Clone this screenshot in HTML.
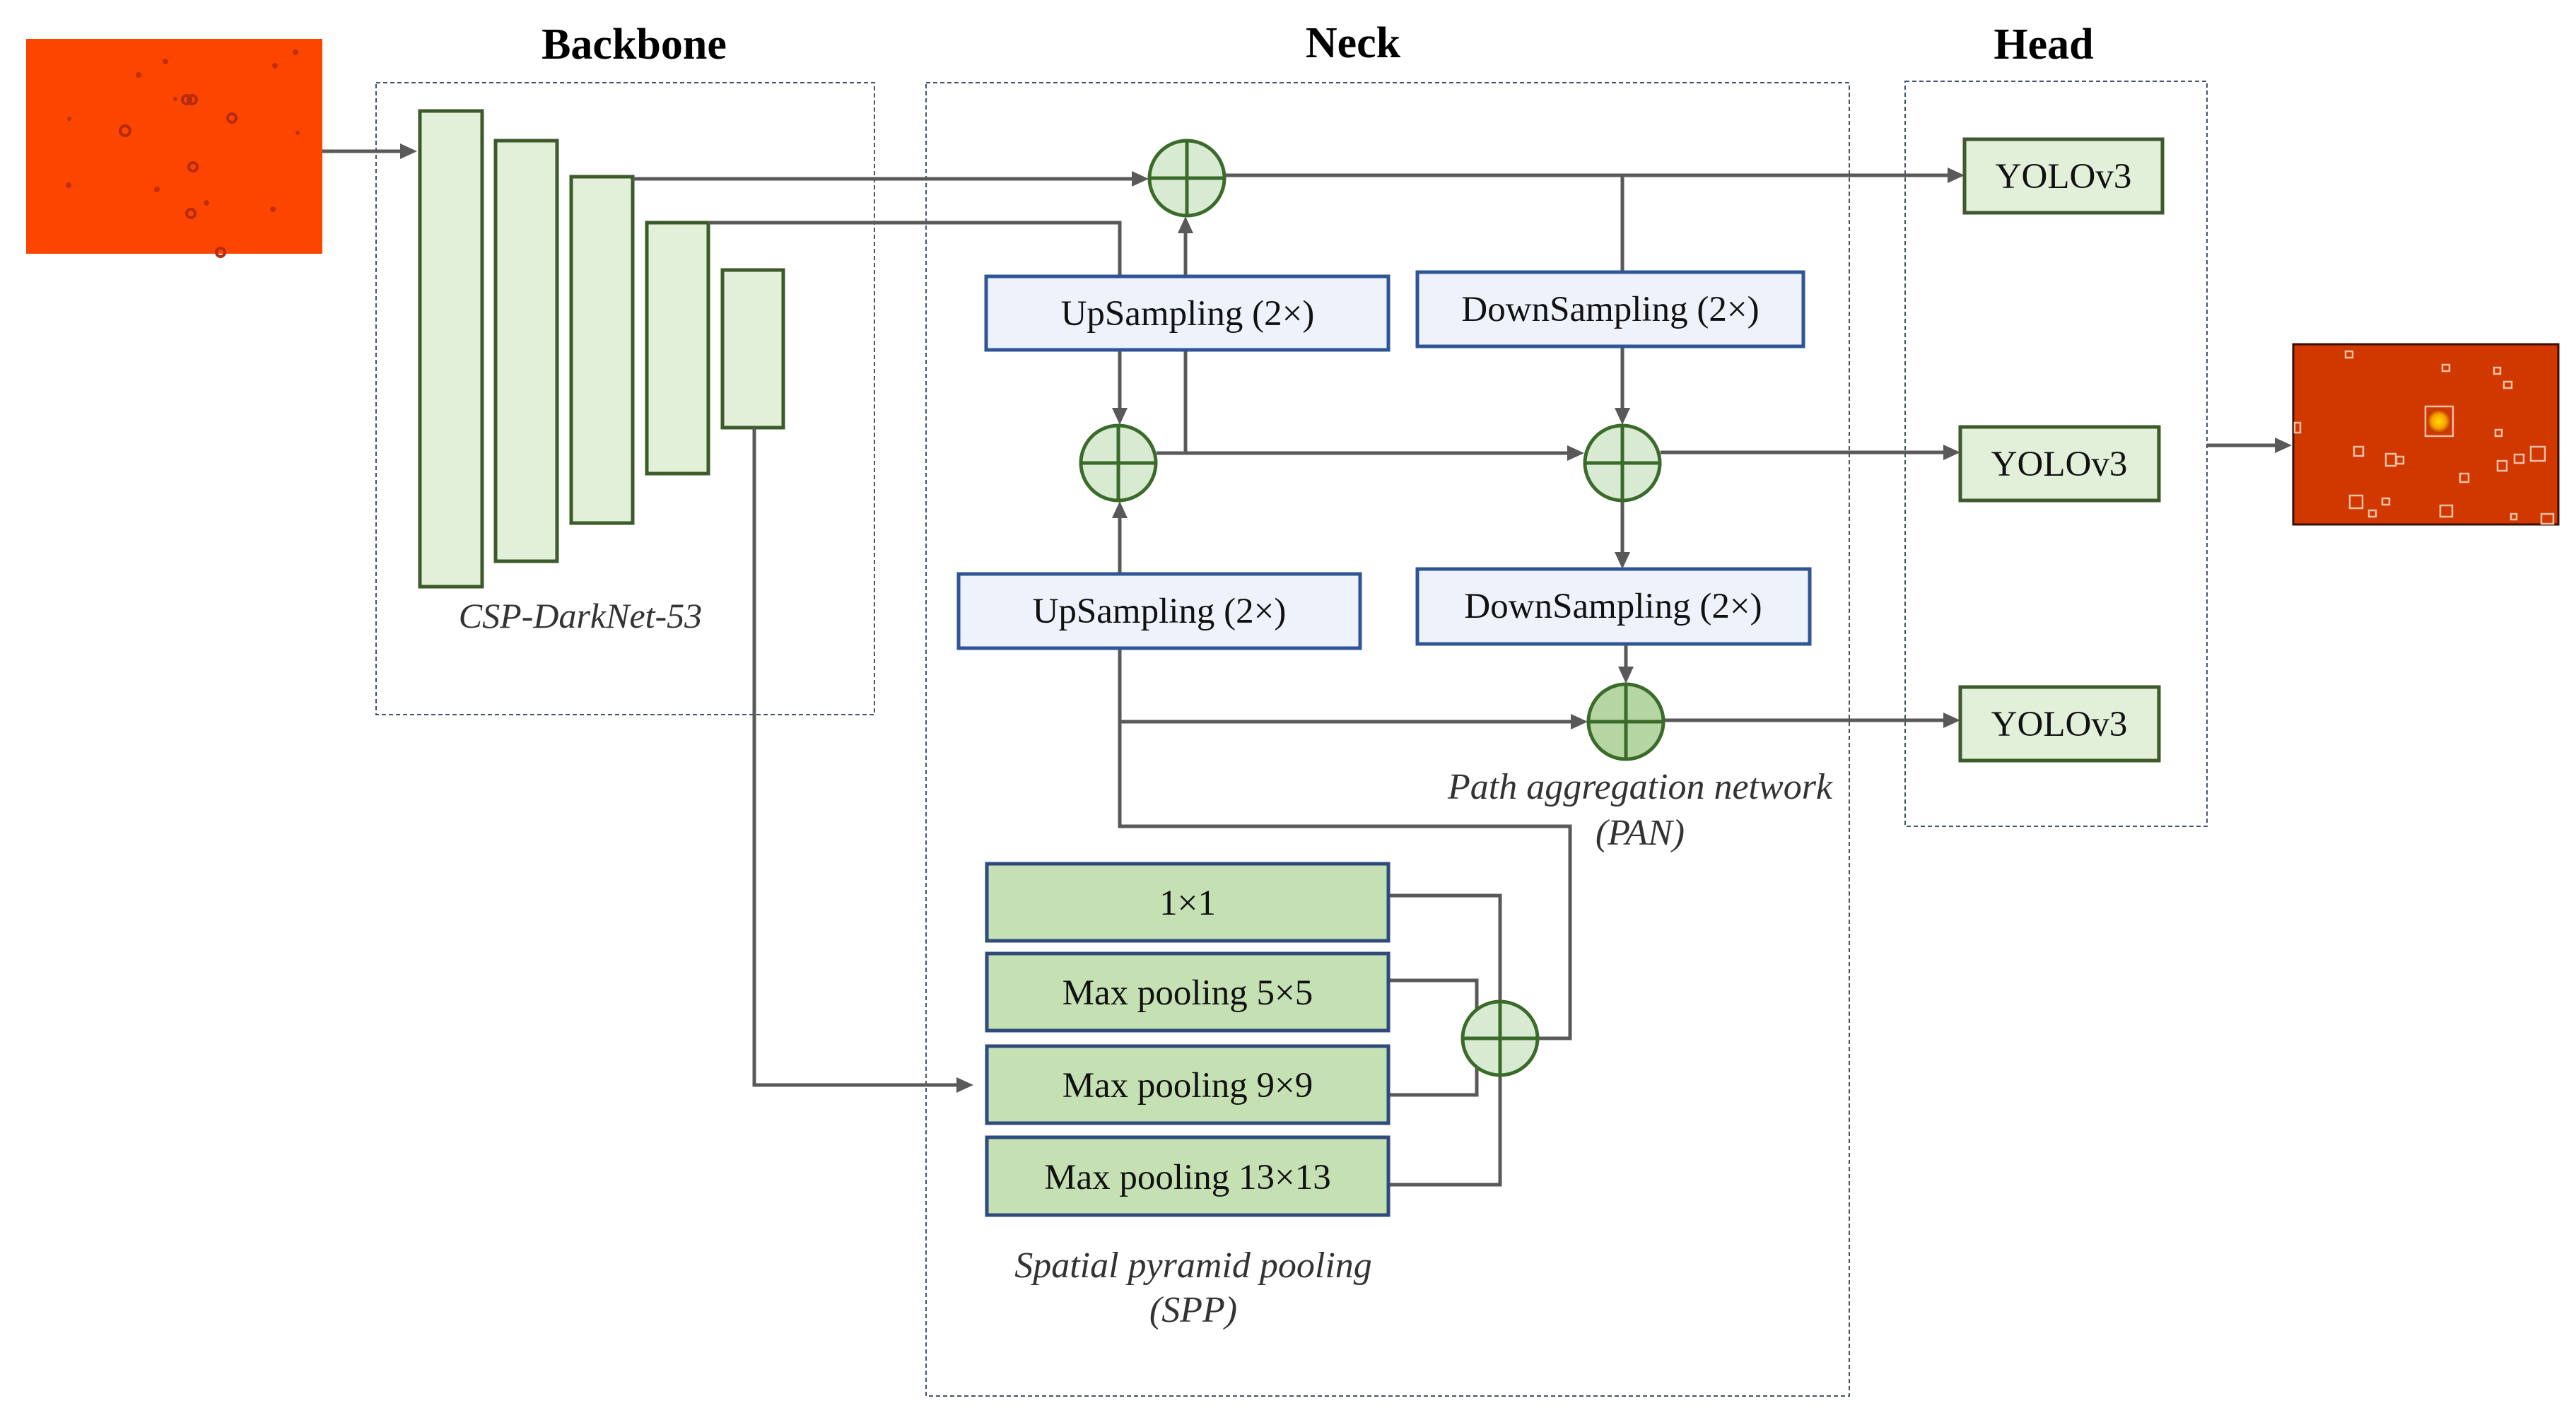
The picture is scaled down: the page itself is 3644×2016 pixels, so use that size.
<!DOCTYPE html>
<html><head><meta charset="utf-8"><style>
html,body{margin:0;padding:0;background:#fff;}
svg{display:block;}
text{font-family:"Liberation Serif",serif;}
</style></head><body>
<svg width="3644" height="2016" viewBox="0 0 3644 2016" xmlns="http://www.w3.org/2000/svg">
<defs>
<radialGradient id="sun"><stop offset="0" stop-color="#ffe000"/><stop offset="0.6" stop-color="#f8a000"/><stop offset="1" stop-color="#b83000"/></radialGradient>
</defs>
<rect width="3644" height="2016" fill="#fff"/>

<!-- input image -->
<rect x="37" y="55" width="419" height="304" fill="#fc4600"/>
<g fill="none" stroke="#b52a10" stroke-width="4">
<circle cx="177" cy="185" r="7"/><circle cx="264" cy="141" r="6"/><circle cx="272" cy="141" r="6"/><circle cx="328" cy="167" r="6"/><circle cx="273" cy="236" r="6"/><circle cx="270" cy="302" r="6"/><circle cx="312" cy="357" r="6"/>
</g>
<g fill="#c22e10">
<circle cx="234" cy="87" r="4"/><circle cx="196" cy="106" r="4"/><circle cx="418" cy="74" r="4"/><circle cx="389" cy="93" r="4"/><circle cx="98" cy="168" r="3"/><circle cx="97" cy="262" r="4"/><circle cx="222" cy="268" r="4"/><circle cx="292" cy="287" r="4"/><circle cx="386" cy="296" r="4"/><circle cx="421" cy="188" r="3"/><circle cx="248" cy="140" r="3"/>
</g>

<!-- titles -->
<text x="897" y="83" font-size="62" font-weight="bold" text-anchor="middle">Backbone</text>
<text x="1914" y="81" font-size="62" font-weight="bold" text-anchor="middle">Neck</text>
<text x="2891" y="83" font-size="62" font-weight="bold" text-anchor="middle">Head</text>

<!-- dashed boxes -->
<g fill="none" stroke="#44546a" stroke-width="2" stroke-dasharray="6,4">
<rect x="532" y="117" width="705" height="894"/>
<rect x="1310" y="117" width="1306" height="1858"/>
<rect x="2695" y="115" width="427" height="1054"/>
</g>

<!-- backbone bars -->
<g fill="#e2efd9" stroke="#3d5a2a" stroke-width="5">
<rect x="594" y="157" width="88" height="673"/>
<rect x="701" y="199" width="87" height="595"/>
<rect x="808" y="250" width="87" height="490"/>
<rect x="915" y="315" width="87" height="355"/>
<rect x="1022" y="382" width="86" height="223"/>
</g>
<text x="821" y="888" font-size="50" font-style="italic" text-anchor="middle" fill="#333">CSP-DarkNet-53</text>

<!-- connectors -->
<g fill="none" stroke="#595959" stroke-width="5">
<path d="M456 214 H570"/>
<path d="M895 253 H1605"/>
<path d="M1002 315 H1584 V391"/>
<path d="M1067 605 V1535 H1358"/>
<path d="M1733 248 H2760"/>
<path d="M2295 248 V385"/>
<path d="M1677 641 V328"/>
<path d="M1584 495 V580"/>
<path d="M1636 641 H2222"/>
<path d="M2295 490 V582"/>
<path d="M2295 709 V783"/>
<path d="M2349 640 H2752"/>
<path d="M2300 911 V948"/>
<path d="M1584 812 V732"/>
<path d="M1584 917 V1169 H2221 V1469 H2176"/>
<path d="M1584 1021 H2226"/>
<path d="M2354 1019 H2752"/>
<path d="M3122 630 H3222"/>
<path d="M1964 1267 H2122 V1676 H1964"/>
<path d="M1964 1387 H2089 V1549 H1964"/>
</g>
<g fill="#595959">
<polygon points="590,214 566,203 566,225"/>
<polygon points="1625,253 1601,242 1601,264"/>
<polygon points="1677,306 1666,330 1688,330"/>
<polygon points="1584,601 1573,577 1595,577"/>
<polygon points="2241,641 2217,630 2217,652"/>
<polygon points="2295,601 2284,577 2306,577"/>
<polygon points="2295,805 2284,781 2306,781"/>
<polygon points="2300,967 2289,943 2311,943"/>
<polygon points="1584,709 1573,733 1595,733"/>
<polygon points="2246,1021 2222,1010 2222,1032"/>
<polygon points="1377,1535 1353,1524 1353,1546"/>
<polygon points="2779,248 2755,237 2755,259"/>
<polygon points="2773,640 2749,629 2749,651"/>
<polygon points="2773,1019 2749,1008 2749,1030"/>
<polygon points="3242,630 3218,619 3218,641"/>
</g>

<!-- circles -->
<g stroke="#3b6b2a" stroke-width="5">
<g fill="#d9ead3">
<circle cx="1679" cy="252" r="53"/>
<circle cx="1582" cy="655" r="53"/>
<circle cx="2295" cy="655" r="53"/>
<ellipse cx="2122" cy="1469" rx="53" ry="52"/>
</g>
<circle cx="2300" cy="1021" r="53" fill="#b5d6a2"/>
<path d="M1626 252 H1732 M1679 199 V305 M1529 655 H1635 M1582 602 V708 M2242 655 H2348 M2295 602 V708 M2247 1021 H2353 M2300 968 V1074 M2069 1469 H2175 M2122 1417 V1521" fill="none"/>
</g>

<!-- blue boxes -->
<g fill="#eef2fa" stroke="#2f5597" stroke-width="5">
<rect x="1395" y="391" width="569" height="104"/>
<rect x="2005" y="385" width="546" height="105"/>
<rect x="1356" y="812" width="568" height="105"/>
<rect x="2005" y="805" width="555" height="106"/>
</g>
<g font-size="51" text-anchor="middle" fill="#111">
<text x="1680" y="460">UpSampling (2×)</text>
<text x="2278" y="454">DownSampling (2×)</text>
<text x="1640" y="881">UpSampling (2×)</text>
<text x="2282" y="874">DownSampling (2×)</text>
</g>

<!-- SPP boxes -->
<g fill="#c5e0b3" stroke="#2f4b7c" stroke-width="5">
<rect x="1396" y="1222" width="568" height="109"/>
<rect x="1396" y="1349" width="568" height="109"/>
<rect x="1396" y="1480" width="568" height="109"/>
<rect x="1396" y="1609" width="568" height="110"/>
</g>
<g font-size="51" text-anchor="middle" fill="#111">
<text x="1680" y="1294">1×1</text>
<text x="1680" y="1421">Max pooling 5×5</text>
<text x="1680" y="1552">Max pooling 9×9</text>
<text x="1680" y="1682">Max pooling 13×13</text>
</g>
<g font-size="52" font-style="italic" text-anchor="middle" fill="#333">
<text x="1688" y="1807">Spatial pyramid pooling</text>
<text x="1688" y="1870">(SPP)</text>
<text x="2320" y="1130">Path aggregation network</text>
<text x="2320" y="1195">(PAN)</text>
</g>

<!-- YOLO boxes -->
<g fill="#e2efd9" stroke="#3d5a2a" stroke-width="5">
<rect x="2779" y="197" width="280" height="104"/>
<rect x="2773" y="604" width="281" height="104"/>
<rect x="2773" y="972" width="281" height="104"/>
</g>
<g font-size="51" text-anchor="middle" fill="#111">
<text x="2919" y="266">YOLOv3</text>
<text x="2913" y="673">YOLOv3</text>
<text x="2913" y="1041">YOLOv3</text>
</g>

<!-- output image -->
<rect x="3244" y="487" width="375" height="255" fill="#d03800" stroke="#3a1000" stroke-width="3"/>
<circle cx="3450" cy="596" r="17" fill="url(#sun)"/>
<g fill="none" stroke="#f4c0a8" stroke-width="2.5">
<rect x="3431" y="575" width="39" height="42"/>
<rect x="3318" y="497" width="10" height="9"/>
<rect x="3455" y="516" width="10" height="9"/>
<rect x="3528" y="520" width="9" height="9"/>
<rect x="3542" y="540" width="11" height="9"/>
<rect x="3530" y="608" width="9" height="9"/>
<rect x="3330" y="632" width="13" height="13"/>
<rect x="3375" y="642" width="14" height="17"/>
<rect x="3390" y="646" width="10" height="10"/>
<rect x="3480" y="670" width="12" height="12"/>
<rect x="3533" y="652" width="13" height="14"/>
<rect x="3557" y="643" width="13" height="12"/>
<rect x="3580" y="632" width="20" height="20"/>
<rect x="3324" y="701" width="18" height="18"/>
<rect x="3370" y="705" width="10" height="9"/>
<rect x="3351" y="722" width="10" height="9"/>
<rect x="3452" y="715" width="17" height="16"/>
<rect x="3552" y="727" width="8" height="8"/>
<rect x="3595" y="727" width="17" height="14"/>
<rect x="3246" y="598" width="8" height="14"/>
</g>
</svg>
</body></html>
